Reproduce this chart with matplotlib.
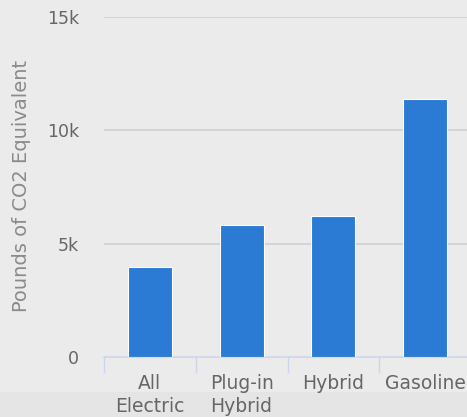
import matplotlib
matplotlib.use("Agg")
import matplotlib.pyplot as plt
from matplotlib.patches import Rectangle

# Annual emissions per vehicle type
categories = ["All\nElectric", "Plug-in\nHybrid", "Hybrid", "Gasoline"]
emissions = [3990, 5840, 6240, 11370]
y_ticks = [0, 5000, 10000, 15000]
y_tick_labels = ["0", "5k", "10k", "15k"]

W, H = 467, 417
fig = plt.figure(figsize=(W / 100, H / 100), dpi=100)
fig.patch.set_facecolor("#ebebeb")

# lighter band along the bottom edge
fig.patches.append(Rectangle((0, 0), 1, 25 / H, transform=fig.transFigure,
                             facecolor="#e5e5e5", edgecolor="none", zorder=-1))

left, right = 104 / W, 471 / W
bottom, top = (H - 357.3) / H, (H - 17) / H
ax = fig.add_axes([left, bottom, right - left, top - bottom])
ax.set_facecolor("none")

x = list(range(len(categories)))
ax.bar(x, emissions, width=0.48, color="#2b7bd5", edgecolor="white",
       linewidth=0.8, zorder=3)

ax.set_xlim(-0.5, len(categories) - 0.5)
ax.set_ylim(0, 15000)

# horizontal grid lines (no line at zero, the axis line sits there)
for v in y_ticks[1:]:
    ax.axhline(v, color="#d0d0d0", linewidth=1.2, zorder=1)

for s in ["top", "right", "left"]:
    ax.spines[s].set_visible(False)
ax.spines["bottom"].set_color("#ccd6eb")
ax.spines["bottom"].set_linewidth(1.2)

# category boundary ticks
ax.set_xticks([i - 0.5 for i in range(len(categories) + 1)], minor=False)
ax.set_xticklabels([])
ax.tick_params(axis="x", which="major", length=11.5, width=1.0,
               color="#ccd6eb", direction="out")
ax.set_xticks(x, minor=True)
ax.set_xticklabels(categories, minor=True, fontsize=13.5, color="#666666",
                   linespacing=1.25)
ax.tick_params(axis="x", which="minor", length=0, pad=12)

ax.set_yticks(y_ticks)
ax.set_yticklabels(y_tick_labels, fontsize=12.5, color="#666666")
ax.tick_params(axis="y", length=0, pad=18)

fig.text(22 / W, (H - 186) / H, "Pounds of CO2 Equivalent", rotation=90,
         ha="center", va="center", fontsize=14, color="#8a8a8a")

fig.savefig("out.png", dpi=100, facecolor=fig.get_facecolor())
